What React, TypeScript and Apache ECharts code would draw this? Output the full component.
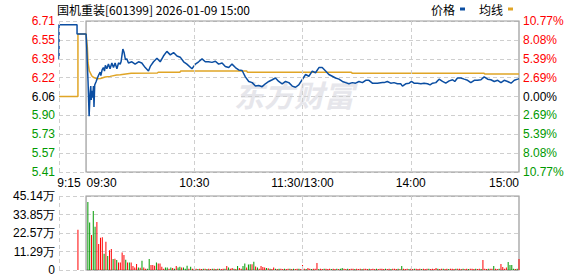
import React, { useEffect, useRef } from "react";
import * as echarts from "echarts";

const TITLE = "国机重装[601399] 2026-01-09 15:00";
const PREV_CLOSE = 6.06;
const LIMIT_PCT = 10.77;

const priceTickLabels = ["5.41", "5.57", "5.73", "5.90", "6.06", "6.22", "6.39", "6.55", "6.71"];
const pctTickLabels = ["10.77%", "8.08%", "5.39%", "2.69%", "0.00%", "2.69%", "5.39%", "8.08%", "10.77%"];
const volTickLabels = ["0", "11.29万", "22.57万", "33.85万", "45.14万"];
const VOL_MAX = 45.14;

// minutes relative to 09:30 (9:15 = -15, 15:00 = 240; lunch break collapsed)
const timeTicks = [-15, 0, 60, 120, 180, 240];
const timeLabels = ["9:15", "09:30", "10:30", "11:30/13:00", "14:00", "15:00"];

// price line: [minute, price]
const pricePoints: [number, number][] = [
  [-15, 6.38], [-15, 6.68], [-5, 6.68], [-5, 6.6],
  [0, 6.6], [0.4, 6.47], [0.7, 6.34], [1.1, 6.19], [1.7, 5.89], [2.2, 6.08], [2.6, 6.15], [2.9, 6.03],
  [3.3, 6.11], [3.7, 6.05], [4.1, 6.15], [4.4, 5.97], [4.8, 6.16], [5.6, 6.19], [6.3, 6.22], [7.1, 6.25],
  [7.8, 6.27], [8.2, 6.24], [8.9, 6.29], [9.6, 6.31], [10.2, 6.28], [10.7, 6.33], [11.5, 6.3], [12.4, 6.34],
  [13.3, 6.3], [14.3, 6.35], [15.2, 6.31], [16.1, 6.35], [17.1, 6.3], [18, 6.35], [18.9, 6.34], [19.4, 6.36],
  [20.4, 6.47], [21.1, 6.44], [21.8, 6.38], [22.6, 6.385], [23.5, 6.35], [25.4, 6.36], [27.2, 6.34],
  [29.1, 6.36], [30.9, 6.35], [32.8, 6.31], [34.6, 6.28], [35.6, 6.32], [37.4, 6.36], [39.3, 6.39],
  [41.1, 6.36], [42.9, 6.41], [44.8, 6.45], [46.7, 6.42], [48.5, 6.44], [50.4, 6.41], [52.2, 6.4],
  [54.1, 6.36], [55.9, 6.34], [58.7, 6.3], [60.6, 6.34], [62.4, 6.36], [64.3, 6.385], [66.1, 6.36],
  [67.9, 6.36], [69.8, 6.355], [71.7, 6.365], [73.5, 6.34], [75.4, 6.35], [77.2, 6.32], [79.1, 6.31],
  [80.9, 6.34], [82.8, 6.31], [84.6, 6.29], [86.5, 6.285], [88.3, 6.23], [90.2, 6.19], [92.1, 6.18],
  [93.9, 6.15], [95.7, 6.155], [97.6, 6.145], [99.4, 6.17], [101.3, 6.19], [103.2, 6.205], [105, 6.22],
  [106.8, 6.19], [108.7, 6.17], [110.6, 6.19], [112.4, 6.18], [114.3, 6.15], [116.1, 6.14], [117.9, 6.16],
  [119.8, 6.205], [121.7, 6.25], [123.5, 6.235], [125.4, 6.28], [127.2, 6.265], [129.1, 6.31], [130.9, 6.31],
  [132.8, 6.28], [134.6, 6.25], [136.5, 6.235], [138.3, 6.22], [140.2, 6.21], [142.1, 6.19], [143.9, 6.18],
  [145.7, 6.17], [147.6, 6.18], [149.4, 6.175], [151.3, 6.19], [153.2, 6.18], [155, 6.2], [156.8, 6.2],
  [158.7, 6.175], [161.5, 6.175], [164.3, 6.18], [165.2, 6.18], [167, 6.19], [168.9, 6.175], [170.7, 6.18],
  [172.6, 6.17], [174.4, 6.17], [175.4, 6.15], [177.2, 6.17], [179.1, 6.175], [180.4, 6.19], [181.8, 6.175],
  [183.7, 6.175], [185.6, 6.17], [187.4, 6.175], [189.3, 6.17], [190.7, 6.16], [192.1, 6.175], [193.9, 6.18],
  [195.7, 6.21], [197.6, 6.19], [199.4, 6.175], [201.3, 6.195], [203.2, 6.205], [204.4, 6.19], [205.9, 6.22],
  [207.8, 6.22], [209.6, 6.21], [211.5, 6.2], [213.3, 6.18], [215.2, 6.2], [217, 6.2], [218.9, 6.205],
  [220.7, 6.23], [222.6, 6.21], [224.4, 6.205], [226.3, 6.19], [228.2, 6.2], [230, 6.18], [231.8, 6.2],
  [233.7, 6.19], [235.6, 6.175], [237.4, 6.2], [239.3, 6.21], [240, 6.215],
];

// average price line: [minute, price]
const avgPoints: [number, number][] = [
  [-15, 6.06], [-4.5, 6.06], [-4.5, 6.6], [0, 6.6], [0.7, 6.49], [1.1, 6.35], [1.8, 6.28], [2.2, 6.27],
  [3.1, 6.24], [4, 6.226], [6, 6.214], [8, 6.216], [10.6, 6.228], [13.3, 6.234], [17, 6.245], [19, 6.248],
  [25, 6.26], [39.5, 6.263], [40, 6.27], [52, 6.27], [52.5, 6.28], [89, 6.28], [89.5, 6.27], [147, 6.27],
  [147.5, 6.262], [220.5, 6.262], [221, 6.255], [240, 6.255],
];

// call-auction volume (9:25)
const auctionVolume: [number, number] = [-4.5, 24.6];

// per-minute volume (万), minutes 1..240 after 09:30
const minuteVolumes = [
  41.5, 29.0, 21.4, 36.0, 26.4, 29.3, 15.9, 19.7, 20.0, 9.9,
  17.3, 8.5, 12.0, 12.8, 6.7, 6.9, 6.1, 4.5, 4.5, 10.6,
  9.2, 6.3, 4.5, 4.5, 4.5, 2.4, 1.6, 3.7, 1.6, 1.4,
  5.7, 1.6, 0.8, 0.8, 6.7, 3.0, 3.0, 2.6, 4.5, 4.0,
  4.0, 2.0, 0.8, 1.6, 1.6, 0.8, 1.6, 1.2, 0.8, 2.4,
  1.6, 2.0, 1.6, 1.6, 0.8, 2.6, 0.8, 2.0, 0.7, 0.7,
  0.7, 0.6, 0.7, 0.6, 0.7, 0.7, 0.6, 0.7, 0.6, 0.7,
  0.7, 0.6, 0.7, 0.7, 0.6, 0.7, 0.7, 2.4, 1.6, 0.7,
  1.2, 0.7, 0.6, 2.4, 1.2, 0.7, 2.4, 4.0, 1.6, 3.3,
  3.5, 3.5, 5.1, 2.2, 1.6, 0.7, 2.4, 1.8, 1.6, 1.2,
  1.0, 0.7, 0.6, 1.6, 0.7, 0.6, 0.7, 0.7, 0.6, 0.7,
  0.6, 0.7, 0.7, 0.6, 0.7, 0.6, 0.7, 0.7, 0.6, 3.0,
  0.7, 0.6, 1.2, 0.7, 0.6, 0.7, 0.7, 4.3, 0.6, 0.7,
  0.6, 0.7, 0.7, 0.6, 0.7, 0.6, 0.7, 0.6, 0.7, 0.6,
  0.7, 1.2, 0.7, 0.6, 0.7, 0.6, 0.7, 0.7, 0.6, 0.7,
  0.6, 0.7, 0.6, 0.7, 0.7, 0.6, 0.7, 0.6, 0.7, 0.6,
  0.7, 0.6, 0.7, 0.7, 0.6, 0.7, 0.6, 0.7, 0.6, 0.7,
  0.7, 0.6, 0.7, 0.6, 2.4, 0.7, 0.6, 0.7, 0.6, 0.7,
  0.6, 0.7, 0.7, 0.6, 0.7, 0.6, 0.7, 0.6, 0.7, 0.7,
  0.6, 0.7, 0.6, 1.2, 0.7, 0.6, 0.7, 0.7, 0.6, 0.7,
  0.6, 0.7, 0.7, 0.6, 0.7, 0.8, 0.7, 0.6, 0.7, 0.6,
  0.7, 0.6, 0.7, 0.7, 0.6, 0.7, 0.6, 0.7, 0.6, 6.1,
  0.7, 0.6, 0.7, 0.8, 0.7, 2.4, 0.7, 0.6, 0.7, 3.7,
  1.8, 0.7, 1.6, 4.9, 3.0, 3.0, 0.7, 0.6, 0.7, 6.7,
];
// r = up (red), g = down (green), per minute 1..240
const minuteDirections = (
  "ggrggrrrrg" + "rgrrgrgrrr" + "rgrgrrrrgr" + "grrggrrrgr" + "rrrggrgrgr" + "ggrgggrgrg" +
  "rgrrgrgrrg" + "rgrgrrgrgr" + "rgrgrrggrg" + "grgrgrrrrg" + "rgrrgrgrrg" + "rrgrgrrgrr" +
  "rgrrgrrrgr" + "rgrrrgrrgr" + "ggrrgrrrgr" + "rrgrrrgrrr" + "grrrrgrrgr" + "rrgrgrrrgr" +
  "rgrrrgrrrg" + "rrrrgrrgrr" + "grrrgrrrgr" + "rgrrrgrrgr" + "rrgrrgrrgr" + "rrrggggrgrr"
).split("");

const RED = "#ff0000";
const GREEN = "#009900";
const BLUE = "#0b4ea2";
const ORANGE = "#e0a526";
const NUM_FONT = "Liberation Sans, Arial, sans-serif";
const CJK_FONT = "Noto Sans CJK SC, sans-serif";

export default function App() {
  const ref = useRef<HTMLDivElement>(null);

  useEffect(() => {
    if (!ref.current) return;
    document.body.style.margin = "0";
    const chart = echarts.init(ref.current, undefined, { renderer: "svg" });

    const yMin = PREV_CLOSE * (1 - LIMIT_PCT / 100);
    const yMax = PREV_CLOSE * (1 + LIMIT_PCT / 100);
    const yStep = (yMax - yMin) / 8;
    const volStep = VOL_MAX / 4;

    const labelColor = (v: any) => {
      const i = Math.round((Number(v) - yMin) / yStep);
      return i > 4 ? RED : i < 4 ? GREEN : "#000";
    };

    const volData: any[] = [
      { value: auctionVolume, itemStyle: { color: RED } },
      ...minuteVolumes.map((v, i) => ({
        value: [i + 1, v],
        itemStyle: { color: minuteDirections[i] === "g" ? GREEN : RED },
      })),
    ];

    const vLines = {
      silent: true,
      symbol: ["none", "none"],
      label: { show: false },
      lineStyle: { color: "#cfcfcf", type: [4, 3], width: 1 },
      data: [{ xAxis: -15 }, { xAxis: 60 }, { xAxis: 120 }, { xAxis: 180 }],
    };

    const timeRich = {
      a: { fontSize: 12, fontFamily: NUM_FONT, color: "#000", padding: [0, 0, 0, 20] },
      b: { fontSize: 12, fontFamily: NUM_FONT, color: "#000", padding: [0, 0, 0, 31] },
      c: { fontSize: 12, fontFamily: NUM_FONT, color: "#000" },
      d: { fontSize: 12, fontFamily: NUM_FONT, color: "#000", padding: [0, 30, 0, 0] },
    };

    chart.setOption({
      animation: false,
      backgroundColor: "#fff",
      title: {
        text: TITLE,
        left: 57,
        top: 3,
        padding: 0,
        textStyle: { fontSize: 12, fontWeight: "normal", color: "#000", fontFamily: CJK_FONT },
      },
      legend: {
        data: ["价格", "均线"],
        right: 65,
        top: 3,
        padding: 0,
        align: "right",
        icon: "rect",
        itemWidth: 5,
        itemHeight: 3,
        itemGap: 14,
        textStyle: { fontSize: 12, color: "#000", fontFamily: CJK_FONT },
      },
      graphic: [
        {
          type: "text",
          left: 234,
          top: 79,
          z: 0,
          silent: true,
          style: {
            text: "东方财富",
            fill: "#e6e6eb",
            font: "italic bold 30px Noto Sans CJK SC",
          },
        },
      ],
      grid: [
        { left: 59, right: 59, top: 21, height: 151 },
        { left: 59, right: 59, top: 196, height: 74 },
      ],
      xAxis: [
        {
          type: "value",
          gridIndex: 0,
          min: -15,
          max: 240,
          interval: 15,
          axisLine: { show: false },
          axisTick: { show: false },
          splitLine: { show: false },
          axisLabel: {
            margin: 5,
            rich: timeRich,
            formatter: (v: number) => {
              const i = timeTicks.indexOf(Math.round(v));
              if (i < 0) return "";
              const key = i === 0 ? "a" : i === 1 ? "b" : i === timeTicks.length - 1 ? "d" : "c";
              return `{${key}|${timeLabels[i]}}`;
            },
          },
        },
        {
          type: "value",
          gridIndex: 1,
          min: -15,
          max: 240,
          interval: 15,
          axisLine: { show: false },
          axisTick: { show: false },
          splitLine: { show: false },
          axisLabel: { show: false },
        },
      ],
      yAxis: [
        {
          type: "value",
          gridIndex: 0,
          min: yMin,
          max: yMax,
          interval: yStep,
          axisLine: { show: false },
          axisTick: { show: false },
          splitLine: { show: true, lineStyle: { color: "#cfcfcf", type: [4, 3], width: 1 } },
          axisLabel: {
            margin: 4,
            fontSize: 12,
            fontFamily: NUM_FONT,
            color: labelColor,
            formatter: (v: number) => priceTickLabels[Math.round((v - yMin) / yStep)] ?? "",
          },
        },
        {
          type: "value",
          gridIndex: 0,
          position: "right",
          min: yMin,
          max: yMax,
          interval: yStep,
          axisLine: { show: false },
          axisTick: { show: false },
          splitLine: { show: false },
          axisLabel: {
            margin: 4,
            fontSize: 12,
            fontFamily: NUM_FONT,
            color: labelColor,
            formatter: (v: number) => pctTickLabels[Math.round((v - yMin) / yStep)] ?? "",
          },
        },
        {
          type: "value",
          gridIndex: 1,
          min: 0,
          max: VOL_MAX,
          interval: volStep,
          axisLine: { show: false },
          axisTick: { show: false },
          splitLine: { show: true, lineStyle: { color: "#cfcfcf", type: [4, 3], width: 1 } },
          axisLabel: {
            margin: 4,
            fontSize: 12,
            fontFamily: NUM_FONT,
            color: "#000",
            formatter: (v: number) => volTickLabels[Math.round(v / volStep)] ?? "",
          },
        },
      ],
      series: [
        {
          name: "均线",
          type: "line",
          xAxisIndex: 0,
          yAxisIndex: 0,
          data: avgPoints,
          symbol: "none",
          lineStyle: { color: ORANGE, width: 1.5 },
          itemStyle: { color: ORANGE },
          z: 3,
          markLine: vLines,
          markArea: {
            silent: true,
            itemStyle: { color: "rgba(0,0,0,0)", borderColor: "#999", borderWidth: 1.2 },
            data: [[{ coord: [0, yMax] }, { coord: [240, yMin] }]],
          },
        },
        {
          name: "价格",
          type: "line",
          xAxisIndex: 0,
          yAxisIndex: 0,
          data: pricePoints,
          symbol: "none",
          lineStyle: { color: BLUE, width: 1.5 },
          itemStyle: { color: BLUE },
          z: 4,
        },
        {
          name: "成交量",
          type: "bar",
          xAxisIndex: 1,
          yAxisIndex: 2,
          data: volData,
          barWidth: 1,
          barGap: "-100%",
          markLine: vLines,
          markArea: {
            silent: true,
            itemStyle: { color: "rgba(0,0,0,0)", borderColor: "#999", borderWidth: 1.2 },
            data: [[{ coord: [0, VOL_MAX] }, { coord: [240, 0] }]],
          },
        },
      ],
    });

    return () => chart.dispose();
  }, []);

  return (
    <div
      ref={ref}
      style={{ position: "absolute", left: 0, top: 0, width: 578, height: 276, background: "#fff" }}
    />
  );
}
